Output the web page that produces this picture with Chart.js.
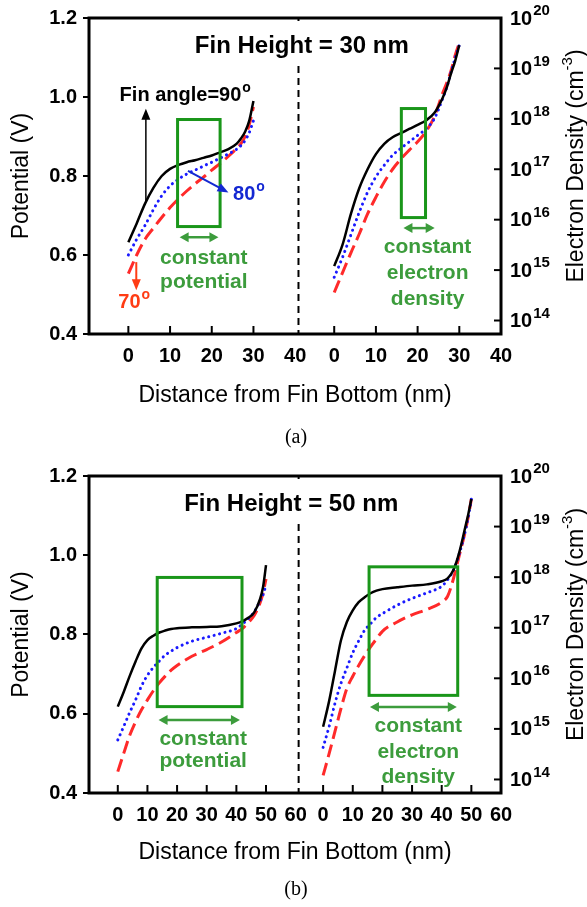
<!DOCTYPE html>
<html>
<head>
<meta charset="utf-8">
<script src="https://cdn.jsdelivr.net/npm/chart.js@4.4.0/dist/chart.umd.min.js"></script>
<style>
  body { margin: 0; background: #fff; width: 587px; height: 907px; position: relative; overflow: hidden; }
  canvas { position: absolute; left: 0; }
  #chartA { top: 0; }
  #chartB { top: 440px; }
  .cap { position: absolute; left: 0; width: 592px; text-align: center; font: 20px 'Liberation Serif', 'Times New Roman', serif; line-height: 24px; }
</style>
</head>
<body>
<canvas id="chartA"></canvas>
<canvas id="chartB"></canvas>
<div class="cap" style="top:424px">(a)</div>
<div class="cap" style="top:876px">(b)</div>
<script>
// ---- data ----
// (a) fin height 30 nm
const nmA = [0, 2, 4, 6, 8, 10, 12, 14, 16, 18, 20, 22, 24, 26, 27, 28, 29, 30];
const potA90 = [0.632, 0.68, 0.73, 0.77, 0.80, 0.818, 0.828, 0.835, 0.84, 0.846, 0.852, 0.86, 0.868, 0.882, 0.895, 0.912, 0.94, 0.99];
const potA80 = [0.60, 0.64, 0.675, 0.715, 0.75, 0.775, 0.792, 0.805, 0.815, 0.825, 0.835, 0.845, 0.856, 0.868, 0.877, 0.89, 0.91, 0.94];
const potA70 = [0.553, 0.60, 0.64, 0.668, 0.695, 0.72, 0.742, 0.762, 0.78, 0.797, 0.815, 0.832, 0.85, 0.87, 0.882, 0.90, 0.93, 0.975];
const denA90 = [1.2e15, 3.2e15, 1.3e16, 4.2e16, 1.0e17, 2.0e17, 3.2e17, 4.3e17, 5.2e17, 6.3e17, 7.6e17, 9.3e17, 1.3e18, 2.6e18, 4.2e18, 7.9e18, 1.4e19, 2.9e19];
const denA80 = [7.2e14, 1.8e15, 5.0e15, 1.4e16, 3.5e16, 7.1e16, 1.2e17, 1.9e17, 2.6e17, 3.5e17, 4.7e17, 6.3e17, 1.0e18, 2.5e18, 4.2e18, 8.3e18, 1.6e19, 2.9e19];
const denA70 = [3.6e14, 8.9e14, 2.2e15, 5.2e15, 1.3e16, 2.8e16, 5.6e16, 1.0e17, 1.6e17, 2.4e17, 3.5e17, 5.6e17, 1.1e18, 3.2e18, 5.2e18, 8.9e18, 1.8e19, 3.2e19];

// (b) fin height 50 nm
const nmB = [0, 2, 4, 6, 8, 10, 12, 14, 16, 18, 20, 25, 30, 35, 40, 42, 44, 46, 48, 49, 50];
const potB90 = [0.618, 0.655, 0.695, 0.732, 0.765, 0.786, 0.797, 0.805, 0.81, 0.814, 0.816, 0.818, 0.819, 0.821, 0.828, 0.833, 0.842, 0.856, 0.89, 0.92, 0.975];
const potB80 = [0.534, 0.568, 0.603, 0.635, 0.67, 0.697, 0.717, 0.733, 0.748, 0.758, 0.767, 0.783, 0.793, 0.803, 0.815, 0.826, 0.84, 0.857, 0.885, 0.90, 0.925];
const potB70 = [0.454, 0.50, 0.545, 0.58, 0.61, 0.635, 0.658, 0.678, 0.695, 0.71, 0.722, 0.745, 0.762, 0.781, 0.805, 0.815, 0.83, 0.848, 0.88, 0.905, 0.94];
const denB90 = [1.1e15, 3.5e15, 1.4e16, 5.6e16, 1.3e17, 2.2e17, 3.2e17, 4.0e17, 4.8e17, 5.4e17, 5.8e17, 6.3e17, 6.8e17, 7.2e17, 8.3e17, 9.5e17, 1.4e18, 3.2e18, 1.0e19, 1.8e19, 3.5e19];
const denB80 = [4.3e14, 1.1e15, 3.2e15, 7.9e15, 1.6e16, 3.2e16, 5.5e16, 8.9e16, 1.2e17, 1.6e17, 1.9e17, 2.8e17, 3.8e17, 4.9e17, 6.6e17, 8.9e17, 1.4e18, 3.0e18, 8.3e18, 1.6e19, 3.5e19];
const denB70 = [1.2e14, 3.2e14, 8.9e14, 2.5e15, 6.3e15, 1.1e16, 1.8e16, 2.8e16, 4.2e16, 6.0e16, 8.5e16, 1.3e17, 1.8e17, 2.3e17, 3.2e17, 4.2e17, 9.5e17, 2.8e18, 8.3e18, 1.6e19, 3.5e19];

// tick labels
const xTicksA = [0, 10, 20, 30, 40];
const xTicksB = [0, 10, 20, 30, 40, 50, 60];
const potTicks = [0.4, 0.6, 0.8, 1.0, 1.2];
const denExps = [14, 15, 16, 17, 18, 19, 20];

const FONT = "'Liberation Sans', Arial, sans-serif";
const BLUE = '#1a1aff', RED = '#ff2a2a', GREEN = '#1a961a', GREEN_T = '#3c9c3c';
const LBL_RED = '#ff3c14', LBL_BLUE = '#1428d2';

function pts(nm, vals, shift) {
    return nm.map((d, i) => ({ x: d + shift, y: vals[i] }));
}

function head(ctx, x, y, a, hl, hw) {
    ctx.beginPath();
    ctx.moveTo(x, y);
    ctx.lineTo(x - hl * Math.cos(a) + hw / 2 * Math.sin(a), y - hl * Math.sin(a) - hw / 2 * Math.cos(a));
    ctx.lineTo(x - hl * Math.cos(a) - hw / 2 * Math.sin(a), y - hl * Math.sin(a) + hw / 2 * Math.cos(a));
    ctx.closePath();
    ctx.fill();
}

function arrow(ctx, x1, y1, x2, y2, color, lw, hl, hw, both) {
    const a = Math.atan2(y2 - y1, x2 - x1);
    ctx.save();
    ctx.strokeStyle = color;
    ctx.fillStyle = color;
    ctx.lineWidth = lw;
    ctx.setLineDash([]);
    ctx.beginPath();
    ctx.moveTo(both ? x1 + Math.cos(a) * hl * 0.7 : x1, both ? y1 + Math.sin(a) * hl * 0.7 : y1);
    ctx.lineTo(x2 - Math.cos(a) * hl * 0.7, y2 - Math.sin(a) * hl * 0.7);
    ctx.stroke();
    head(ctx, x2, y2, a, hl, hw);
    if (both) head(ctx, x1, y1, a + Math.PI, hl, hw);
    ctx.restore();
}

// base text followed by a raised smaller part, left aligned, middle baseline
function supText(ctx, x, y, base, sup, size, supSize, rise) {
    ctx.font = 'bold ' + size + 'px ' + FONT;
    ctx.textAlign = 'left';
    ctx.textBaseline = 'middle';
    ctx.fillText(base, x, y);
    const w = ctx.measureText(base).width;
    ctx.font = 'bold ' + supSize + 'px ' + FONT;
    ctx.fillText(sup, x + w + 1, y - rise);
}

const annotate = {
    id: 'annotate',
    afterDraw(chart, args, p) {
        const ctx = chart.ctx;
        const { left, right, top, bottom } = chart.chartArea;
        const X = v => chart.scales.x.getPixelForValue(v);
        const Y = v => chart.scales.y.getPixelForValue(v);
        const Y2 = v => chart.scales.y2.getPixelForValue(v);
        ctx.save();

        // dashed divider between the two halves
        const dx = X(p.divider);
        ctx.strokeStyle = '#000';
        ctx.lineWidth = 2;
        ctx.setLineDash([7, 5]);
        ctx.beginPath();
        ctx.moveTo(dx, top);
        ctx.lineTo(dx, bottom);
        ctx.stroke();
        ctx.setLineDash([]);

        // panel title on a white patch
        ctx.font = 'bold 24px ' + FONT;
        const tw = ctx.measureText(p.title).width;
        const tx = X(p.titleX);
        ctx.fillStyle = '#fff';
        ctx.fillRect(tx - tw / 2 - 4, top + 3, tw + 8, 43);
        ctx.fillStyle = '#000';
        ctx.textAlign = 'center';
        ctx.textBaseline = 'middle';
        ctx.fillText(p.title, tx, top + 28);

        // frame
        ctx.lineWidth = 3;
        ctx.strokeRect(left, top, right - left, bottom - top);

        // inner ticks on the bottom axis
        ctx.lineWidth = 2;
        p.innerTicks.forEach(v => {
            ctx.beginPath();
            ctx.moveTo(X(v), bottom);
            ctx.lineTo(X(v), bottom - 8);
            ctx.stroke();
        });

        // right log axis: inner ticks and labels
        denExps.forEach(n => {
            const y = Y2(Math.pow(10, n));
            if (n < 20) {
                ctx.beginPath();
                ctx.moveTo(right, y);
                ctx.lineTo(right - 7, y);
                ctx.stroke();
            }
            ctx.fillStyle = '#000';
            supText(ctx, right + 9, y + 1, '10', String(n), 20, 15, 8);
        });

        // right axis title, reading bottom to top
        ctx.save();
        ctx.translate(577, (top + bottom) / 2 - 10);
        ctx.rotate(-Math.PI / 2);
        ctx.font = '23px ' + FONT;
        const t1 = 'Electron Density (cm', t2 = '-3', t3 = ')';
        const w1 = ctx.measureText(t1).width, w3 = ctx.measureText(t3).width;
        ctx.font = '15px ' + FONT;
        const w2 = ctx.measureText(t2).width;
        let sx = -(w1 + w2 + w3) / 2;
        ctx.textAlign = 'left';
        ctx.textBaseline = 'middle';
        ctx.fillStyle = '#000';
        ctx.font = '23px ' + FONT;
        ctx.fillText(t1, sx, 0);
        ctx.font = '15px ' + FONT;
        ctx.fillText(t2, sx + w1, -9);
        ctx.font = '23px ' + FONT;
        ctx.fillText(t3, sx + w1 + w2, 0);
        ctx.restore();

        // green boxes, double arrows and captions
        p.boxes.forEach(b => {
            const yf = b.axis === 'y2' ? Y2 : Y;
            ctx.strokeStyle = GREEN;
            ctx.lineWidth = 3;
            ctx.strokeRect(X(b.x1), yf(b.y2), X(b.x2) - X(b.x1), yf(b.y1) - yf(b.y2));
            arrow(ctx, X(b.ax1), yf(b.ay), X(b.ax2), yf(b.ay), GREEN_T, 2.5, 9, 10, true);
            ctx.fillStyle = GREEN_T;
            ctx.font = 'bold 21px ' + FONT;
            ctx.textAlign = 'center';
            ctx.textBaseline = 'middle';
            b.lines.forEach((s, i) => ctx.fillText(s, X(b.tx), yf(b.ty[i])));
        });

        // angle arrows and labels
        (p.arrows || []).forEach(a => {
            arrow(ctx, X(a.x1), Y(a.y1), X(a.x2), Y(a.y2), a.color, a.lw, 11, 9, false);
        });
        (p.labels || []).forEach(l => {
            ctx.fillStyle = l.color;
            supText(ctx, X(l.x), Y(l.y), l.text, 'o', 20, 14, 7);
        });
        ctx.restore();
    }
};

function makePanel(id, P) {
    const el = document.getElementById(id);
    el.width = 587;
    el.height = P.height;
    const tickVals = P.xTicks.concat(P.xTicks.map(v => v + P.off));
    const line = (data, axis, kind) => {
        const base = { data: data, yAxisID: axis, fill: false, pointRadius: 0, cubicInterpolationMode: 'monotone' };
        if (kind === 90) return Object.assign(base, { borderColor: '#000', borderWidth: 2.5 });
        if (kind === 80) return Object.assign(base, { borderColor: BLUE, borderWidth: 3, borderDash: [0.1, 5.5], borderCapStyle: 'round' });
        return Object.assign(base, { borderColor: RED, borderWidth: 3, borderDash: [13, 6] });
    };
    return new Chart(el.getContext('2d'), {
        type: 'line',
        data: {
            datasets: [
                line(pts(P.nm, P.pot[0], 0), 'y', 90),
                line(pts(P.nm, P.pot[1], 0), 'y', 80),
                line(pts(P.nm, P.pot[2], 0), 'y', 70),
                line(pts(P.nm, P.den[0], P.off), 'y2', 90),
                line(pts(P.nm, P.den[1], P.off), 'y2', 80),
                line(pts(P.nm, P.den[2], P.off), 'y2', 70)
            ]
        },
        plugins: [annotate],
        options: {
            responsive: false,
            animation: false,
            layout: { padding: { top: P.top, right: 86, bottom: 0, left: 0 } },
            plugins: {
                legend: { display: false },
                tooltip: { enabled: false },
                annotate: P.notes
            },
            scales: {
                x: {
                    type: 'linear',
                    min: P.xMin,
                    max: P.off + P.xTicks[P.xTicks.length - 1],
                    afterBuildTicks: s => { s.ticks = tickVals.map(v => ({ value: v })); },
                    afterFit: s => { s.height = P.height - P.top - P.plotH; },
                    ticks: {
                        autoSkip: false,
                        maxRotation: 0,
                        padding: 10,
                        color: '#000',
                        font: { family: FONT, size: 20, weight: 'bold' },
                        callback: v => Math.round(v >= P.off - 1 ? v - P.off : v)
                    },
                    grid: { display: false, drawTicks: false },
                    border: { display: false },
                    title: {
                        display: true,
                        text: 'Distance from Fin Bottom (nm)',
                        color: '#000',
                        font: { family: FONT, size: 23 },
                        padding: { top: 0, bottom: P.xTitlePad }
                    }
                },
                y: {
                    min: 0.4,
                    max: 1.2,
                    afterBuildTicks: s => { s.ticks = potTicks.map(v => ({ value: v })); },
                    afterFit: s => { s.width = 89; },
                    ticks: {
                        padding: 6,
                        color: '#000',
                        font: { family: FONT, size: 20, weight: 'bold' },
                        callback: v => v.toFixed(1)
                    },
                    grid: { display: true, drawOnChartArea: false, drawTicks: true, tickLength: 6, color: '#000', lineWidth: 2 },
                    border: { display: false },
                    title: {
                        display: true,
                        text: 'Potential (V)',
                        color: '#000',
                        font: { family: FONT, size: 23 },
                        padding: { top: 8, bottom: 0 }
                    }
                },
                y2: {
                    type: 'logarithmic',
                    display: false,
                    min: 5.4e13,
                    max: 1e20
                }
            }
        }
    });
}

makePanel('chartA', {
    height: 420, top: 16, plotH: 318, xTitlePad: 11,
    nm: nmA, pot: [potA90, potA80, potA70], den: [denA90, denA80, denA70],
    xTicks: xTicksA, off: 49.37, xMin: -9.44,
    notes: {
        divider: 40.8, title: 'Fin Height = 30 nm', titleX: 41.6,
        innerTicks: [0, 10, 20, 30, 49.37, 59.37, 69.37, 79.37],
        boxes: [
            { axis: 'y', x1: 11.8, x2: 22, y1: 0.672, y2: 0.943, ax1: 12.3, ax2: 21.6, ay: 0.645,
              tx: 18.1, lines: ['constant', 'potential'], ty: [0.591, 0.532] },
            { axis: 'y2', x1: 49.37 + 16.1, x2: 49.37 + 21.9, y1: 1.1e16, y2: 1.6e18, ax1: 49.37 + 16.6, ax2: 49.37 + 24.1, ay: 6.8e15,
              tx: 49.37 + 22.4, lines: ['constant', 'electron', 'density'], ty: [2.8e15, 8.5e14, 2.7e14] }
        ],
        arrows: [
            { x1: 4.2, y1: 0.737, x2: 4.2, y2: 0.97, color: '#000', lw: 1.5 },
            { x1: 14.3, y1: 0.813, x2: 24, y2: 0.758, color: LBL_BLUE, lw: 2 },
            { x1: 1.9, y1: 0.582, x2: 1.9, y2: 0.511, color: LBL_RED, lw: 2 }
        ],
        labels: [
            { text: 'Fin angle=90', x: -2.1, y: 1.005, color: '#000' },
            { text: '80', x: 25.1, y: 0.754, color: LBL_BLUE },
            { text: '70', x: -2.4, y: 0.481, color: LBL_RED }
        ]
    }
});

makePanel('chartB', {
    height: 440, top: 36, plotH: 317, xTitlePad: 14,
    nm: nmB, pot: [potB90, potB80, potB70], den: [denB90, denB80, denB70],
    xTicks: xTicksB, off: 69.26, xMin: -9.71,
    notes: {
        divider: 61, title: 'Fin Height = 50 nm', titleX: 58.5,
        innerTicks: [0, 10, 20, 30, 40, 50, 69.26, 79.26, 89.26, 99.26, 109.26, 119.26],
        boxes: [
            { axis: 'y', x1: 13.3, x2: 41.9, y1: 0.618, y2: 0.944, ax1: 13.75, ax2: 41.2, ay: 0.584,
              tx: 28.8, lines: ['constant', 'potential'], ty: [0.536, 0.479] },
            { axis: 'y2', x1: 69.26 + 15.5, x2: 69.26 + 45.4, y1: 4.6e15, y2: 1.6e18, ax1: 69.26 + 15.8, ax2: 69.26 + 45.1, ay: 2.7e15,
              tx: 69.26 + 32.1, lines: ['constant', 'electron', 'density'], ty: [1.15e15, 3.4e14, 1.1e14] }
        ]
    }
});
</script>
</body>
</html>
